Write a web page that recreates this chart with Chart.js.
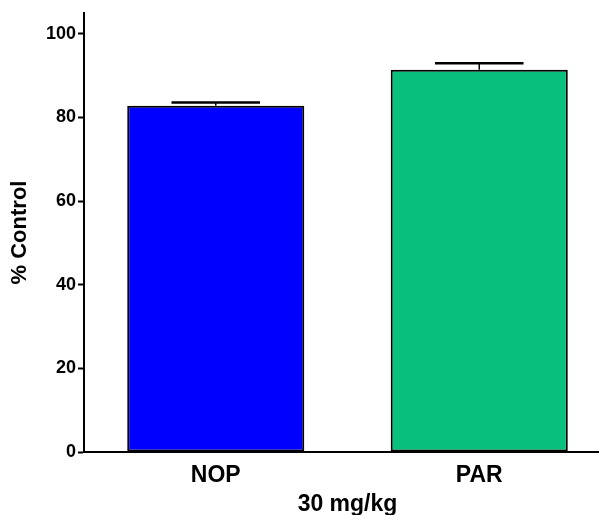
<!DOCTYPE html>
<html>
<head>
<meta charset="utf-8">
<script src="https://cdn.jsdelivr.net/npm/chart.js@4.4.1/dist/chart.umd.min.js"></script>
<style>
html,body{margin:0;padding:0;background:#fff;overflow:hidden;}
#wrap{position:relative;width:611px;height:515px;}
</style>
</head>
<body>
<div id="wrap"><canvas id="c" width="611" height="515"></canvas></div>
<script>
const categories = ["NOP", "PAR"];
const meanValues = [82.8, 91.4];
const errorValues = [0.8, 1.6];
const barColors = ["#0000FF", "#08BF7B"];
const yTicks = [0, 20, 40, 60, 80, 100];
const xTitle = "30 mg/kg";
const yTitle = "% Control";

const errorBarPlugin = {
  id: 'errorBars',
  afterDatasetsDraw(chart) {
    const ctx = chart.ctx;
    const meta = chart.getDatasetMeta(0);
    const ys = chart.scales.y;
    ctx.save();
    ctx.strokeStyle = '#000';
    meta.data.forEach((bar, i) => {
      const top = ys.getPixelForValue(meanValues[i] + errorValues[i]);
      const half = bar.width / 4;
      ctx.lineWidth = 1.5;
      ctx.beginPath();
      ctx.moveTo(bar.x, bar.y);
      ctx.lineTo(bar.x, top);
      ctx.stroke();
      ctx.lineWidth = 2.5;
      ctx.beginPath();
      ctx.moveTo(bar.x - half, top);
      ctx.lineTo(bar.x + half, top);
      ctx.stroke();
    });
    ctx.restore();
  }
};

new Chart(document.getElementById('c'), {
  type: 'bar',
  data: {
    labels: categories,
    datasets: [{
      data: meanValues,
      backgroundColor: barColors,
      borderColor: '#000',
      borderWidth: 2,
      borderSkipped: false,
      barPercentage: 0.672,
      categoryPercentage: 1.0
    }]
  },
  options: {
    responsive: false,
    animation: false,
    devicePixelRatio: 1,
    layout: { padding: { top: 13, left: 0, right: 0, bottom: 0 } },
    plugins: { legend: { display: false }, tooltip: { enabled: false } },
    scales: {
      x: {
        grid: { display: false, drawTicks: false },
        border: { display: true, color: '#000', width: 2 },
        ticks: {
          color: '#000',
          padding: 12,
          font: { family: 'Liberation Sans, Arial, sans-serif', size: 23, weight: 'bold', lineHeight: 1 }
        },
        title: {
          display: true, text: xTitle, color: '#000',
          font: { family: 'Liberation Sans, Arial, sans-serif', size: 23, weight: 'bold', lineHeight: 0.8 },
          padding: { top: 0, bottom: 0.8 }
        },
        afterFit(s) { s.height = 63; }
      },
      y: {
        min: 0, max: 105,
        afterBuildTicks(s) { s.ticks = yTicks.map(v => ({ value: v })); },
        grid: { drawOnChartArea: false, drawTicks: true, tickLength: 6, tickWidth: 2, tickColor: '#000' },
        border: { display: true, color: '#000', width: 2 },
        ticks: {
          color: '#000',
          padding: 2,
          font: { family: 'Liberation Sans, Arial, sans-serif', size: 18, weight: 'bold' }
        },
        title: {
          display: true, text: yTitle, color: '#000',
          font: { family: 'Liberation Sans, Arial, sans-serif', size: 22, weight: 'bold', lineHeight: 1 },
          padding: { top: 9, bottom: 0 }
        },
        afterFit(s) { s.width = 84; }
      }
    }
  },
  plugins: [errorBarPlugin]
});
</script>
</body>
</html>
